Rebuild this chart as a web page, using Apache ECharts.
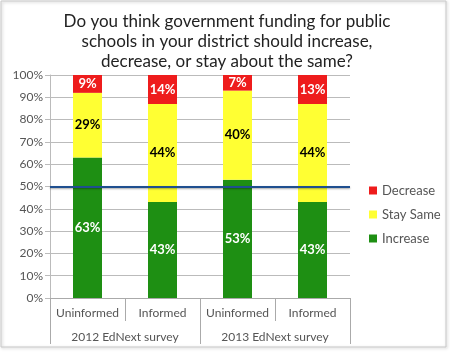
<!DOCTYPE html>
<html>
<head>
<meta charset="utf-8">
<script src="https://cdn.jsdelivr.net/npm/echarts@6/dist/echarts.min.js"></script>
<style>
  html, body { margin: 0; padding: 0; background: #fff; }
  #main { width: 450px; height: 352px; }
</style>
</head>
<body>
<div id="main"></div>
<script>
// data
var groups = ['Uninformed', 'Informed', 'Uninformed', 'Informed'];
var surveys = ['2012 EdNext survey', '2013 EdNext survey'];
var increase = [63, 43, 53, 43];
var staySame = [29, 44, 40, 44];
var decrease = [9, 14, 7, 13];

var chart = echarts.init(document.getElementById('main'));

function labelOf(color) {
    return {
        show: true,
        position: 'inside',
        formatter: '{c}%',
        color: color,
        fontWeight: 'bold',
        fontSize: 13,
        fontFamily: 'Lato'
    };
}

chart.setOption({
    animation: false,
    textStyle: { fontFamily: 'Lato' },
    title: {
        text: 'Do you think government funding for public\nschools in your district should increase,\ndecrease, or stay about the same?',
        left: 222,
        top: 7,
        textAlign: 'center',
        textStyle: { fontSize: 17, fontWeight: 'normal', color: '#222', lineHeight: 20, fontFamily: 'Lato' }
    },
    legend: {
        orient: 'vertical',
        left: 364,
        top: 179,
        itemWidth: 8,
        itemHeight: 8,
        itemGap: 11,
        icon: 'rect',
        data: ['Decrease', 'Stay Same', 'Increase'],
        textStyle: { color: '#555', fontSize: 13, fontFamily: 'Lato' }
    },
    grid: { left: 50, right: 100, top: 75, bottom: 54 },
    xAxis: [{
        type: 'category',
        data: groups,
        axisLine: { show: true, lineStyle: { color: '#aaa' } },
        axisTick: { show: true, interval: 0, alignWithLabel: false, length: 23, lineStyle: { color: '#aaa' } },
        axisLabel: { interval: 0, color: '#555', fontSize: 12, margin: 9 }
    }, {
        type: 'category',
        data: surveys,
        position: 'bottom',
        axisLine: { show: false },
        axisTick: { show: true, interval: 0, alignWithLabel: false, length: 46, lineStyle: { color: '#aaa' } },
        axisLabel: { interval: 0, color: '#555', fontSize: 12, margin: 33 }
    }],
    yAxis: {
        type: 'value',
        min: 0,
        max: 100,
        interval: 10,
        axisLine: { show: true, lineStyle: { color: '#bbb' } },
        axisTick: { show: true, length: 5, lineStyle: { color: '#bbb' } },
        axisLabel: { formatter: '{value}%', color: '#555', fontSize: 12, margin: 7 },
        splitLine: { lineStyle: { color: '#bbb' } }
    },
    series: [{
        name: 'Increase',
        type: 'bar',
        stack: 'all',
        barWidth: 29,
        data: increase,
        itemStyle: { color: '#1e8f13' },
        label: labelOf('#fff'),
        markLine: {
            silent: true,
            symbol: 'none',
            label: { show: false },
            lineStyle: {
                color: '#1f4f8f', width: 2, type: 'solid',
                shadowColor: 'rgba(0,0,0,0.35)', shadowBlur: 2, shadowOffsetY: 1
            },
            data: [{ yAxis: 50 }]
        },
        z: 2
    }, {
        name: 'Stay Same',
        type: 'bar',
        stack: 'all',
        data: staySame,
        itemStyle: { color: '#ffff33' },
        label: labelOf('#000')
    }, {
        name: 'Decrease',
        type: 'bar',
        stack: 'all',
        data: decrease,
        itemStyle: { color: '#ee1c1c' },
        label: labelOf('#fff')
    }],
    graphic: [{
        type: 'rect',
        shape: { x: 1, y: 1, width: 445, height: 346 },
        style: {
            fill: 'none', stroke: '#c8c8c8', lineWidth: 1,
            shadowColor: 'rgba(0,0,0,0.25)', shadowBlur: 3, shadowOffsetX: 1, shadowOffsetY: 1
        },
        silent: true
    }]
});
</script>
</body>
</html>
